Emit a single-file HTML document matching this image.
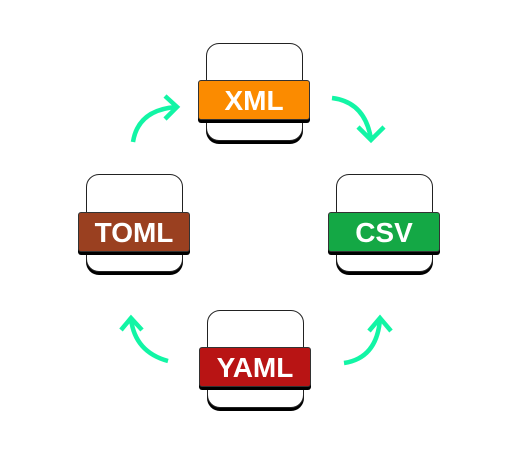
<!DOCTYPE html>
<html><head><style>
body{margin:0;width:513px;height:461px;background:#fff;position:relative;overflow:hidden;font-family:"Liberation Sans",sans-serif}
.card{position:absolute;width:97px;height:98px;border:1px solid #222;border-radius:13px;background:#fff;box-shadow:0 3px 0 #000;box-sizing:border-box}
.band{position:absolute;width:112px;height:40px;border:1px solid #333;border-radius:3px;box-shadow:0 3px 0 #000;box-sizing:border-box;color:#fff;font-weight:bold;font-size:28px;text-align:center;line-height:39px}
</style></head><body>
<div class="card" style="left:206px;top:43px"></div>
<div class="band" style="left:198px;top:80px;background:#fb8b00">XML</div>
<div class="card" style="left:86px;top:174px"></div>
<div class="band" style="left:78px;top:212px;background:#9a4020">TOML</div>
<div class="card" style="left:336px;top:174px"></div>
<div class="band" style="left:328px;top:212px;background:#14a845">CSV</div>
<div class="card" style="left:207px;top:310px"></div>
<div class="band" style="left:199px;top:347px;background:#b81414">YAML</div>
<svg width="513" height="461" style="position:absolute;left:0;top:0" fill="none" stroke="#12f5a5" stroke-width="4.5" stroke-linecap="butt">
<path d="M133 142 Q138 110 176 107"/><path d="M165 96 L177 107 L165 119"/>
<path d="M332 98 Q365 102 371 139"/><path d="M358 127 L371 140 L384 127"/>
<path d="M168 361 Q135 352 131 319"/><path d="M121 330 L131 318 L142 330"/>
<path d="M344 363 Q377 358 380 319"/><path d="M369 331 L380 318 L391 331"/>
</svg>
</body></html>
